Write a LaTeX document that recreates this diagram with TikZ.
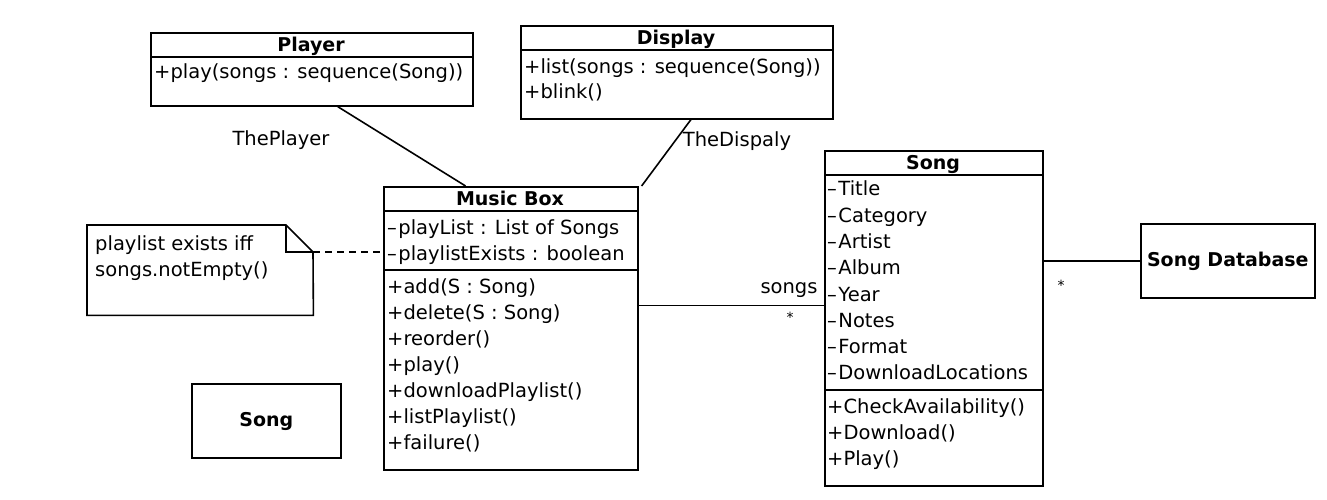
\documentclass[tikz,border=0pt]{standalone}
\usepackage{fontspec}
\setmainfont{DejaVu Sans}
\usetikzlibrary{calc}
\newcommand\priv{--\kern1.5pt}
\begin{document}
\begin{tikzpicture}[x=1pt,y=-1pt,
  txt/.style={font=\fontsize{19.5}{22}\selectfont, inner sep=0pt, text height=15.5pt, text depth=3.5pt},
  member/.style={txt, anchor=west},
  ttl/.style={font=\fontsize{19}{22}\selectfont\bfseries, inner sep=0pt, text height=15.5pt, text depth=3.5pt},
  box/.style={draw, line width=1.6pt, inner sep=0pt, anchor=north west},
  sep/.style={line width=1.6pt},
  conn/.style={line width=1.6pt},
  lbl/.style={txt}]
\useasboundingbox (0,0) rectangle (1327,499);

% Player
\node[box, minimum width=322pt, minimum height=73pt] (player) at (150,32) {};
\draw[sep] (150,57) -- (472,57);
\node[ttl] (playerT) at (311,45) {Player};
\node[member] (playerM1) at (154,72) {+play(songs : sequence(Song))};

% Display
\node[box, minimum width=312pt, minimum height=93pt] (display) at (520,25) {};
\draw[sep] (520,50) -- (832,50);
\node[ttl] (displayT) at (676,38) {Display};
\node[member] (displayM1) at (524,67) {+list(songs : sequence(Song))};
\node[member] (displayM2) at (524,92) {+blink()};

% Music Box
\node[box, minimum width=254pt, minimum height=283pt] (musicbox) at (383,186) {};
\draw[sep] (383,211) -- (637,211);
\draw[sep] (383,270) -- (637,270);
\node[ttl] (musicboxT) at (510,199) {Music Box};
\node[member] (mbA1) at (387,228) {\priv playList : List of Songs};
\node[member] (mbA2) at (387,254) {\priv playlistExists : boolean};
\node[member] (mbM1) at (387,287) {+add(S : Song)};
\node[member] (mbM2) at (387,313) {+delete(S : Song)};
\node[member] (mbM3) at (387,339) {+reorder()};
\node[member] (mbM4) at (387,365) {+play()};
\node[member] (mbM5) at (387,391) {+downloadPlaylist()};
\node[member] (mbM6) at (387,417) {+listPlaylist()};
\node[member] (mbM7) at (387,443) {+failure()};

% Note
\node[minimum width=226pt, minimum height=90pt, inner sep=0pt, anchor=north west] (note) at (87,225) {};
\draw[line width=1.6pt] (note.north west) -- (286,225) -- (313,252) -- (note.south east) -- (note.south west) -- cycle;
\draw[line width=1.6pt] (286,225) -- (286,252) -- (313,252);
\coordinate (notefold) at (313,252);
\node[member] (noteL1) at (95,244) {playlist exists iff};
\node[member] (noteL2) at (95,270) {songs.notEmpty()};

% Small Song box
\node[box, minimum width=149pt, minimum height=74pt] (song2) at (191,383) {};
\node[ttl] (song2T) at (song2.center) {Song};

% Song class
\node[box, minimum width=218pt, minimum height=335pt] (song) at (824,150) {};
\draw[sep] (824,175) -- (1042,175);
\draw[sep] (824,390) -- (1042,390);
\node[ttl] (songT) at (933,163) {Song};
\node[member] (sA1) at (827,189) {\priv Title};
\node[member] (sA2) at (827,216) {\priv Category};
\node[member] (sA3) at (827,242) {\priv Artist};
\node[member] (sA4) at (827,268) {\priv Album};
\node[member] (sA5) at (827,295) {\priv Year};
\node[member] (sA6) at (827,321) {\priv Notes};
\node[member] (sA7) at (827,347) {\priv Format};
\node[member] (sA8) at (827,373) {\priv DownloadLocations};
\node[member] (sM1) at (827,407) {+CheckAvailability()};
\node[member] (sM2) at (827,433) {+Download()};
\node[member] (sM3) at (827,459) {+Play()};

% Song Database
\node[box, minimum width=174pt, minimum height=74pt] (songdb) at (1140,223) {};
\node[ttl] (songdbT) at (songdb.center) {Song Database};

% Connectors
\draw[conn] ($(player.south west)!0.58!(player.south east)$) -- ($(musicbox.north west)!0.323!(musicbox.north east)$);
\draw[conn] ($(display.south west)!0.545!(display.south east)$) -- ($(musicbox.north east)+(3,0)$);
\coordinate (mbR) at ($(musicbox.north east)!0.42!(musicbox.south east)$);
\draw[conn] (mbR) -- (song.west |- mbR);
\draw[conn] (song.east |- songdb.west) -- (songdb.west);
\draw[line width=1.6pt, dash pattern=on 7pt off 5pt] (notefold) -- (musicbox.west |- notefold);

% Labels
\node[lbl] (lPlayer) at (281,139) {ThePlayer};
\node[lbl] (lDisplay) at (737,140) {TheDispaly};
\node[lbl] (lSongs) at (789,287) {songs};
\node[lbl, font=\fontsize{14}{16}\selectfont] (lStar1) at (790,316) {*};
\node[lbl, font=\fontsize{14}{16}\selectfont] (lStar2) at (1061,284) {*};
\end{tikzpicture}
\end{document}
